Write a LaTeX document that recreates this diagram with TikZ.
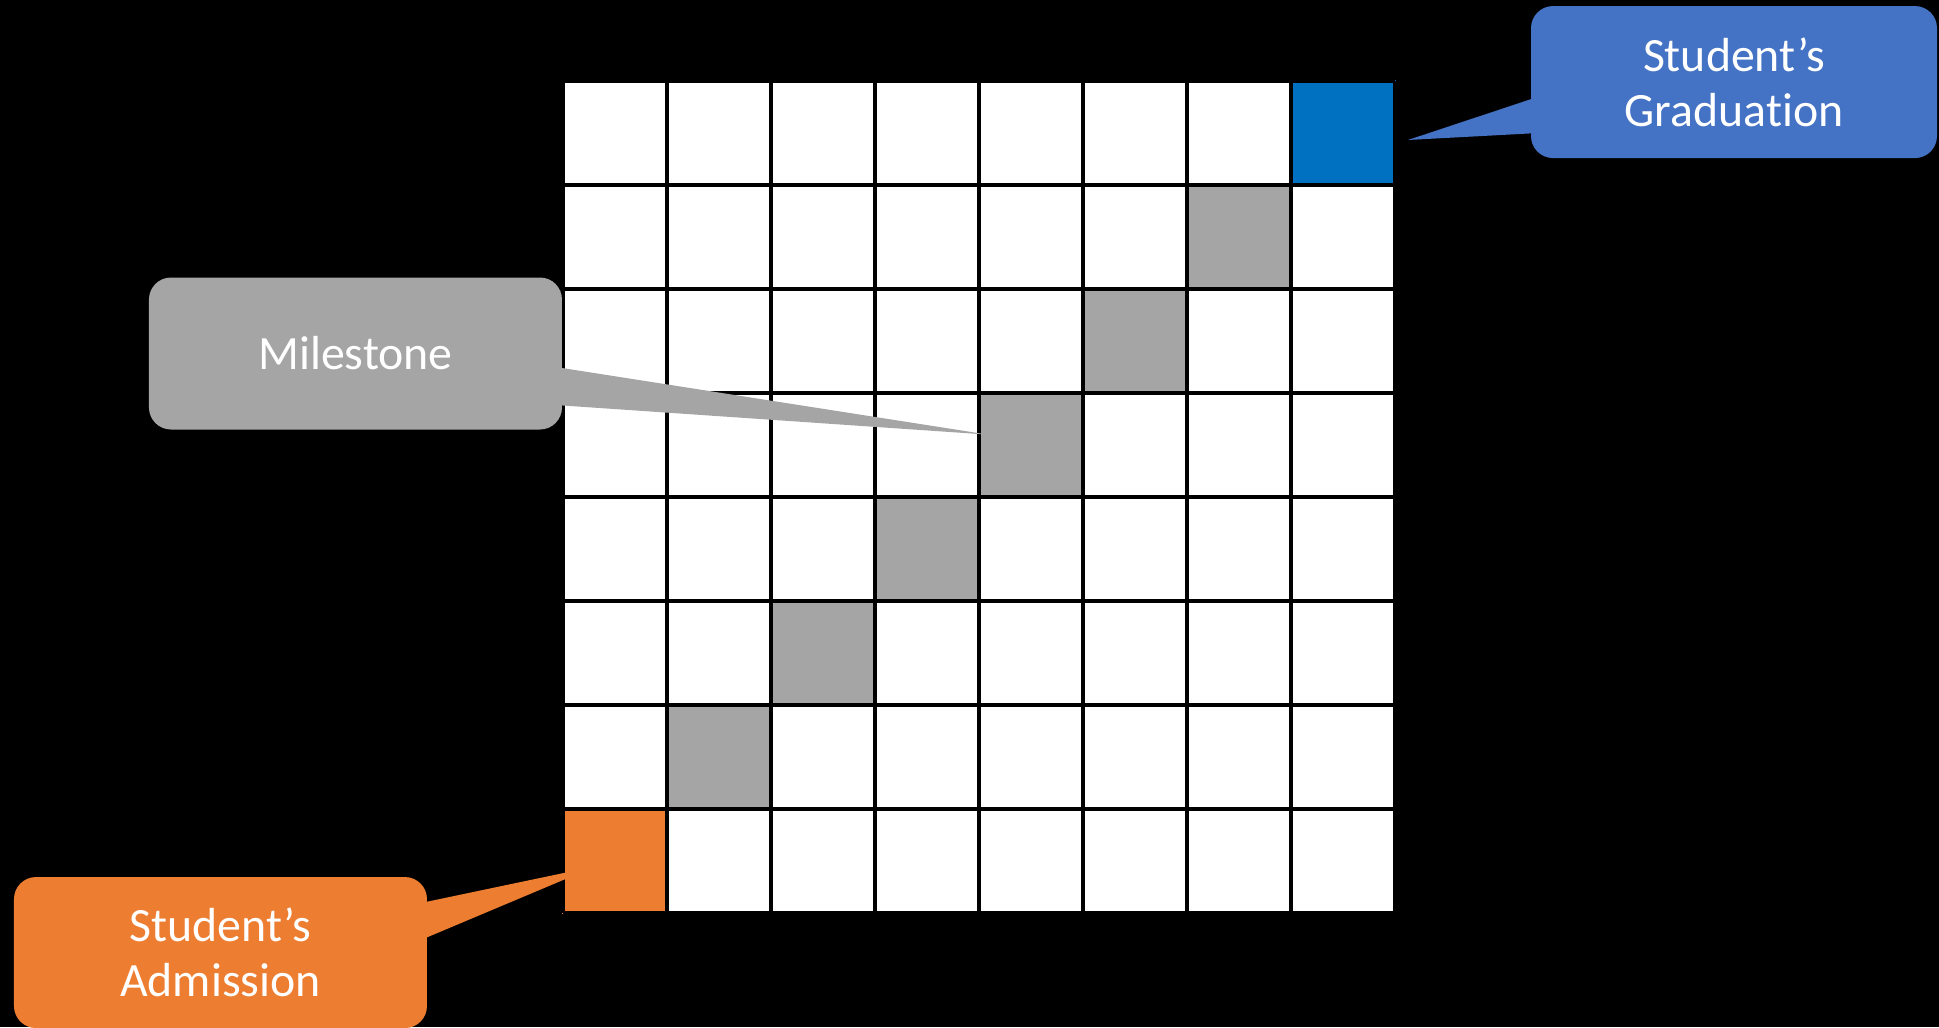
\documentclass[tikz,border=0pt]{standalone}
\usepackage{fontspec}
\setmainfont{Carlito}[Ligatures=NoCommon]
\definecolor{gradblue}{HTML}{0070C0}
\definecolor{calloutblue}{HTML}{4472C4}
\definecolor{admorange}{HTML}{ED7D31}
\definecolor{milegray}{HTML}{A5A5A5}

\begin{document}
\begin{tikzpicture}[x=1.04cm,y=1.04cm,
  cell/.style={fill=white,minimum size=1.04cm,inner sep=0pt},
  callout/.style={rounded corners=0.22cm,text=white,align=center,inner sep=0pt,
    minimum width=4.13cm,minimum height=1.52cm,font=\fontsize{13.6}{15.7}\selectfont}]
% 배경
\fill[black] (-5.413,-1.096) rectangle (13.231,8.779);
\useasboundingbox (-5.413,-1.096) rectangle (13.231,8.779);
% 칸
\foreach \i in {0,...,7}
  \foreach \j in {0,...,7}
    \node[cell] (c\i\j) at (\i+0.5,\j+0.5) {};
\foreach \k in {1,...,6}
  \fill[milegray] (c\k\k.south west) rectangle (c\k\k.north east);
\fill[admorange] (c00.south west) rectangle (c00.north east);
\fill[gradblue] (c77.south west) rectangle (c77.north east);
% 격자선
\draw[line width=0.04cm,step=1] (0,0) grid (8,8);
% 말풍선
\node[callout,fill=milegray] (mile) at (-1.995,5.38) {Milestone};
\node[callout,fill=calloutblue,minimum width=4.06cm] (grad) at (11.26,7.99) {Student’s\\Graduation};
\node[callout,fill=admorange,minimum height=1.51cm] (adm) at (-3.293,-0.38) {Student’s\\Admission};
\coordinate (miletip) at (4.087,4.60);
\coordinate (gradtip) at (8.125,7.433);
\coordinate (admtip) at (0.317,0.45);
\fill[milegray] ([xshift=-2pt,yshift=-0.135cm]mile.east) -- (miletip) -- ([xshift=-2pt,yshift=-0.515cm]mile.east) -- cycle;
\fill[calloutblue] ([xshift=2pt,yshift=-0.15cm]grad.west) -- (gradtip) -- ([xshift=2pt,yshift=-0.51cm]grad.west) -- cycle;
\fill[admorange] ([xshift=-2pt,yshift=0.495cm]adm.east) -- (admtip) -- ([xshift=-2pt,yshift=0.125cm]adm.east) -- cycle;
\end{tikzpicture}
\end{document}
